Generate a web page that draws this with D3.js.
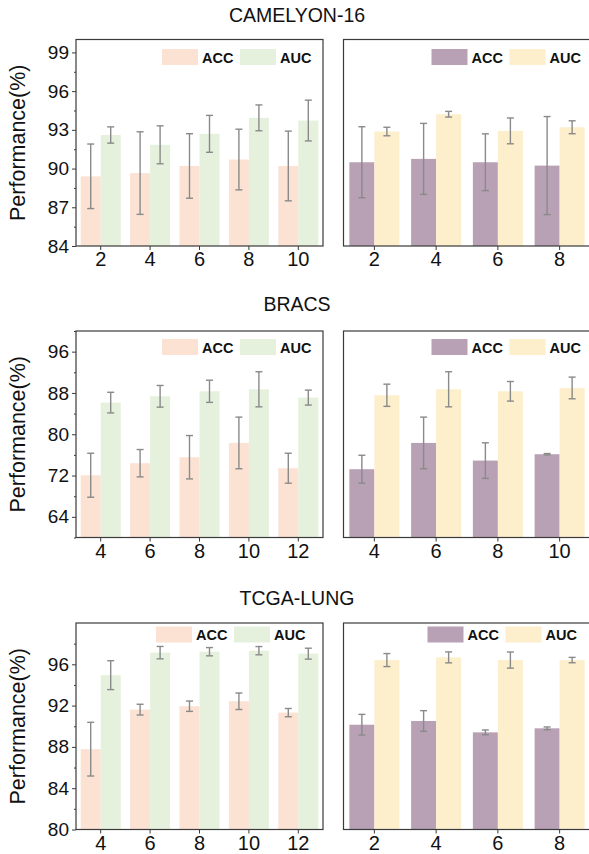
<!DOCTYPE html>
<html>
<head>
<meta charset="utf-8">
<script src="https://cdn.jsdelivr.net/npm/d3@7"></script>
<style>
  body { margin: 0; background: #fff; }
  svg { display: block; font-family: "Liberation Sans", Arial, sans-serif; }
</style>
</head>
<body>
<div id="chart"></div>
<script>
// ---- data ----
var camLeftX = [2, 4, 6, 8, 10];
var camLeftAcc = [89.4, 89.65, 90.2, 90.7, 90.2];
var camLeftAccErr = [2.5, 3.2, 2.5, 2.35, 2.7];
var camLeftAuc = [92.6, 91.84, 92.69, 93.93, 93.72];
var camLeftAucErr = [0.63, 1.47, 1.43, 1.0, 1.58];

var camRightX = [2, 4, 6, 8];
var camRightAcc = [90.49, 90.75, 90.49, 90.23];
var camRightAccErr = [2.75, 2.75, 2.2, 3.8];
var camRightAuc = [92.87, 94.21, 92.92, 93.2];
var camRightAucErr = [0.33, 0.22, 1.0, 0.5];

var bracsLeftX = [4, 6, 8, 10, 12];
var bracsLeftAcc = [72.06, 74.39, 75.55, 78.32, 73.42];
var bracsLeftAccErr = [4.26, 2.65, 4.2, 5.0, 2.9];
var bracsLeftAuc = [86.13, 87.35, 88.32, 88.71, 87.1];
var bracsLeftAucErr = [2.0, 2.1, 2.15, 3.4, 1.45];

var bracsRightX = [4, 6, 8, 10];
var bracsRightAcc = [73.23, 78.32, 74.9, 76.13];
var bracsRightAccErr = [2.7, 5.0, 3.45, 0.13];
var bracsRightAuc = [87.55, 88.71, 88.32, 88.97];
var bracsRightAucErr = [2.15, 3.4, 1.9, 2.1];

var tcgaLeftX = [4, 6, 8, 10, 12];
var tcgaLeftAcc = [87.78, 91.61, 91.94, 92.42, 91.32];
var tcgaLeftAccErr = [2.6, 0.52, 0.5, 0.8, 0.4];
var tcgaLeftAuc = [94.95, 97.13, 97.22, 97.32, 97.03];
var tcgaLeftAucErr = [1.4, 0.6, 0.4, 0.4, 0.53];

var tcgaRightX = [2, 4, 6, 8];
var tcgaRightAcc = [90.15, 90.51, 89.41, 89.8];
var tcgaRightAccErr = [1.0, 1.0, 0.23, 0.13];
var tcgaRightAuc = [96.41, 96.67, 96.41, 96.41];
var tcgaRightAucErr = [0.63, 0.53, 0.78, 0.26];

var titles = ["CAMELYON-16", "BRACS", "TCGA-LUNG"];
var yDomains = [[84, 100], [60, 100], [80, 100]];
var yTicks = [[84, 87, 90, 93, 96, 99], [64, 72, 80, 88, 96], [80, 84, 88, 92, 96]];
var yMinor = [[85.5, 88.5, 91.5, 94.5, 97.5], [60, 68, 76, 84, 92, 100], [82, 86, 90, 94, 98]];
var seriesNames = ["ACC", "AUC"];

// ---- layout ----
var W = 589, H = 854;
var rowTop = [39.5, 331, 623];
var rowH = 206.5;
var titleY = [22, 311, 605];
var legendTop = [9.5, 8, 3.5];
var leftX = [76, 323];
var rightX = [343.5, 590.5];

var leftColors = ["#fbe2d3", "#e5f1dc"];
var rightColors = ["#b8a1b5", "#fdeecc"];

var rows = [
  { left: [camLeftX, camLeftAcc, camLeftAccErr, camLeftAuc, camLeftAucErr],
    right: [camRightX, camRightAcc, camRightAccErr, camRightAuc, camRightAucErr],
    legL: [161, 83], legR: [159, 81] },
  { left: [bracsLeftX, bracsLeftAcc, bracsLeftAccErr, bracsLeftAuc, bracsLeftAucErr],
    right: [bracsRightX, bracsRightAcc, bracsRightAccErr, bracsRightAuc, bracsRightAucErr],
    legL: [161, 83], legR: [159, 81] },
  { left: [tcgaLeftX, tcgaLeftAcc, tcgaLeftAccErr, tcgaLeftAuc, tcgaLeftAucErr],
    right: [tcgaRightX, tcgaRightAcc, tcgaRightAccErr, tcgaRightAuc, tcgaRightAucErr],
    legL: [167, 89], legR: [163, 85] }
];

var svg = d3.select("#chart").append("svg")
  .attr("width", W)
  .attr("height", H);

function drawPanel(r, d, xr, colors, leg, showY) {
  var top = rowTop[r], bottom = rowTop[r] + rowH;
  var cats = d[0];
  var x = d3.scaleBand().domain(cats).range(xr).padding(0);
  var y = d3.scaleLinear().domain(yDomains[r]).range([bottom, top]);
  var bw = x.bandwidth() * 0.405;
  var g = svg.append("g");

  // bars
  var series = [
    { vals: d[1], err: d[2], off: -bw, col: colors[0] },
    { vals: d[3], err: d[4], off: 0, col: colors[1] }
  ];
  series.forEach(function (s) {
    g.selectAll(null)
      .data(cats)
      .enter()
      .append("rect")
      .attr("x", function (c) { return x(c) + x.bandwidth() / 2 + s.off; })
      .attr("y", function (c, i) { return y(s.vals[i]); })
      .attr("width", bw)
      .attr("height", function (c, i) { return bottom - y(s.vals[i]); })
      .attr("fill", s.col);
  });

  // error bars
  series.forEach(function (s) {
    var eg = g.selectAll(null)
      .data(cats)
      .enter()
      .append("g")
      .attr("stroke", "#8a8a8a")
      .attr("stroke-width", 1.4)
      .attr("fill", "none");
    var cx = function (c) { return x(c) + x.bandwidth() / 2 + s.off + bw / 2; };
    eg.append("line")
      .attr("x1", cx).attr("x2", cx)
      .attr("y1", function (c, i) { return y(s.vals[i] + s.err[i]); })
      .attr("y2", function (c, i) { return y(s.vals[i] - s.err[i]); });
    [1, -1].forEach(function (sign) {
      eg.append("line")
        .attr("x1", function (c) { return cx(c) - 3.5; })
        .attr("x2", function (c) { return cx(c) + 3.5; })
        .attr("y1", function (c, i) { return y(s.vals[i] + sign * s.err[i]); })
        .attr("y2", function (c, i) { return y(s.vals[i] + sign * s.err[i]); });
    });
  });

  // frame
  g.append("rect")
    .attr("x", xr[0]).attr("y", top)
    .attr("width", xr[1] - xr[0]).attr("height", rowH)
    .attr("fill", "none")
    .attr("stroke", "#3a3a3a")
    .attr("stroke-width", 1.2);

  // x axis
  var xAxis = g.append("g")
    .attr("transform", "translate(0," + bottom + ")")
    .call(d3.axisBottom(x).tickSize(4).tickPadding(2));
  xAxis.select(".domain").remove();
  xAxis.selectAll("line").attr("stroke", "#3a3a3a");
  xAxis.selectAll("text")
    .attr("font-size", 20)
    .attr("fill", "#111")
    .style("font-family", "Liberation Sans, Arial, sans-serif");

  // y axis
  if (showY) {
    var yAxis = g.append("g")
      .attr("transform", "translate(" + xr[0] + ",0)")
      .call(d3.axisLeft(y).tickValues(yTicks[r]).tickSize(4).tickPadding(3));
    yAxis.select(".domain").remove();
    yAxis.selectAll("line").attr("stroke", "#3a3a3a");
    yAxis.selectAll("text")
      .attr("font-size", 19)
      .attr("fill", "#111")
      .style("font-family", "Liberation Sans, Arial, sans-serif");
    var yMin = g.append("g")
      .attr("transform", "translate(" + xr[0] + ",0)")
      .call(d3.axisLeft(y).tickValues(yMinor[r]).tickSize(2).tickFormat(""));
    yMin.select(".domain").remove();
    yMin.selectAll("line").attr("stroke", "#3a3a3a");

    g.append("text")
      .attr("transform", "translate(25," + (top + rowH / 2) + ") rotate(-90)")
      .attr("text-anchor", "middle")
      .attr("font-size", 21.5)
      .attr("fill", "#111")
      .text("Performance(%)");
  }

  // legend
  var ly = top + legendTop[r];
  seriesNames.forEach(function (name, i) {
    var lx = xr[1] - leg[i];
    g.append("rect")
      .attr("x", lx).attr("y", ly)
      .attr("width", 36).attr("height", 16)
      .attr("fill", colors[i]);
    g.append("text")
      .attr("x", lx + 40).attr("y", ly + 13.5)
      .attr("font-size", 14.5)
      .attr("font-weight", "bold")
      .attr("fill", "#111")
      .text(name);
  });
}

rows.forEach(function (row, r) {
  svg.append("text")
    .attr("x", 297).attr("y", titleY[r])
    .attr("text-anchor", "middle")
    .attr("font-size", 19.5)
    .attr("fill", "#111")
    .text(titles[r]);
  drawPanel(r, row.left, leftX, leftColors, row.legL, true);
  drawPanel(r, row.right, rightX, rightColors, row.legR, false);
});
</script>
</body>
</html>
